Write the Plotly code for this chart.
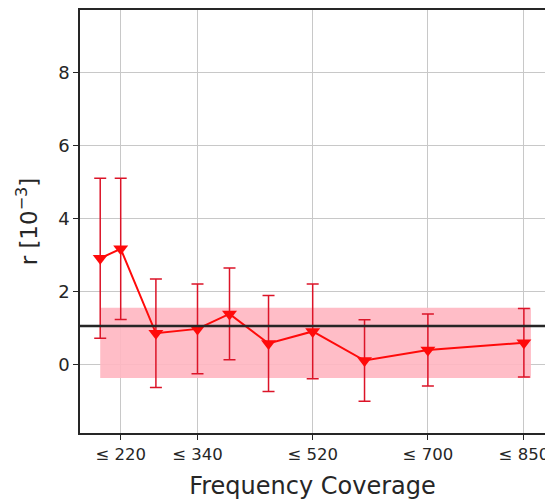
import plotly.graph_objects as go

x_vals = [188, 220, 275, 340, 390, 451, 520, 601, 700, 850]
r_vals = [2.91, 3.17, 0.85, 0.97, 1.38, 0.57, 0.90, 0.10, 0.39, 0.59]
r_err = [2.20, 1.94, 1.49, 1.23, 1.26, 1.32, 1.30, 1.12, 0.99, 0.94]
tick_vals = [220, 340, 520, 700, 850]
tick_text = ["≤ 220", "≤ 340", "≤ 520", "≤ 700", "≤ 850"]
ref_value = 1.05
band_low, band_high = -0.38, 1.55
band_x = [188, 861]

fig = go.Figure()

fig.add_trace(go.Scatter(
    x=[band_x[0], band_x[1], band_x[1], band_x[0], band_x[0]],
    y=[band_low, band_low, band_high, band_high, band_low],
    fill="toself", fillcolor="rgba(255,182,193,0.9)", line=dict(width=0),
    mode="lines", hoverinfo="skip", showlegend=False,
))

fig.add_shape(type="line", xref="paper", x0=0, x1=1, yref="y",
              y0=ref_value, y1=ref_value,
              line=dict(color="#262626", width=2.5))

fig.add_trace(go.Scatter(
    x=x_vals, y=r_vals, mode="lines+markers",
    line=dict(color="#ff0a0a", width=2),
    marker=dict(symbol="triangle-down", size=13, color="#ff0a0a"),
    error_y=dict(type="data", array=r_err, visible=True,
                 color="#dc1428", thickness=1.5, width=6),
    showlegend=False,
))

# page body has an 8px margin, so the figure is drawn at (8, 8)
fig.update_layout(
    width=545, height=492,
    margin=dict(l=72, r=8, t=2, b=67),
    paper_bgcolor="white", plot_bgcolor="white",
    font=dict(family="DejaVu Sans", color="#262626"),
)
fig.update_xaxes(
    range=[156.4, 883], tickvals=tick_vals, ticktext=tick_text,
    tickfont=dict(size=16.5), ticks="outside", ticklen=5, tickcolor="#262626",
    showgrid=True, gridcolor="#c8c8c8", gridwidth=1,
    showline=True, linecolor="#262626", linewidth=1.5, mirror=True,
    zeroline=False, automargin=False,
    title=dict(text="Frequency Coverage", font=dict(size=24), standoff=15),
)
fig.update_yaxes(
    range=[-1.89, 9.73], tickvals=[0, 2, 4, 6, 8],
    tickfont=dict(size=18), ticks="outside", ticklen=5, tickcolor="#262626",
    showgrid=True, gridcolor="#c8c8c8", gridwidth=1,
    showline=True, linecolor="#262626", linewidth=1.5, mirror=True,
    zeroline=False, automargin=False,
    title=dict(text="r [10<sup>−3</sup>]", font=dict(size=23), standoff=14),
)

fig.write_html("out.html")
